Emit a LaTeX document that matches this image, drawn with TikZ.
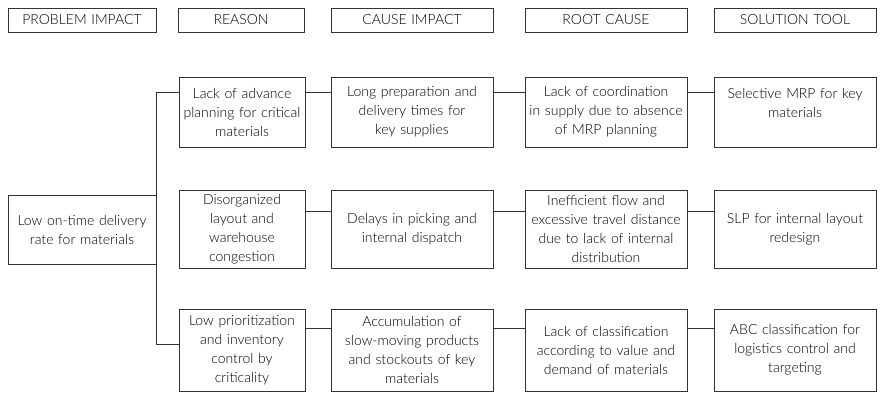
\documentclass[tikz,border=0pt]{standalone}
\usepackage{fontspec}
\setmainfont{Lato Light}

\begin{document}
\begin{tikzpicture}[x=1pt,y=-1pt,
    font=\fontsize{14}{19}\selectfont,
    cell/.style={draw=black!80, line width=0.9pt, align=center, inner xsep=0pt, inner ysep=0pt},
    head/.style={cell, minimum height=24pt},
    cA/.style={minimum width=148pt, text width=148pt},
    cB/.style={minimum width=126pt, text width=126pt},
    cC/.style={minimum width=162pt, text width=162pt},
    link/.style={draw=black!80, line width=0.9pt}]
  \useasboundingbox (0,0) rectangle (884,392);
  % column heads
  \node[head,cA] (hProblem) at (82,20) {PROBLEM IMPACT};
  \node[head,cB] (hReason) at (241,20) {REASON};
  \node[head,cC] (hCause) at (412,20) {CAUSE IMPACT};
  \node[head,cC] (hRoot) at (606,20) {ROOT CAUSE};
  \node[head,cC] (hTool) at (795,20) {SOLUTION TOOL};
  % problem
  \node[cell,cA,minimum height=69pt] (problem) at (82,229.5) {Low on-time delivery\\rate for materials};
  % row 1
  \node[cell,cB,minimum height=70pt] (reasonA) at (242,112) {Lack of advance\\planning for critical\\materials};
  \node[cell,cC,minimum height=70pt] (causeA) at (412,112) {Long preparation and\\delivery times for\\key supplies};
  \node[cell,cC,minimum height=70pt] (rootA) at (606,112) {Lack of coordination\\in supply due to absence\\of MRP planning};
  \node[cell,cC,minimum height=70pt] (toolA) at (795,112) {Selective MRP for key\\materials\\\mbox{}};
  % row 2
  \node[cell,cB,minimum height=78pt] (reasonB) at (242,229) {Disorganized\\layout and\\warehouse\\congestion};
  \node[cell,cC,minimum height=78pt] (causeB) at (412,229) {Delays in picking and\\internal dispatch};
  \node[cell,cC,minimum height=78pt] (rootB) at (606,229) {Inefficient flow and\\excessive travel distance\\due to lack of internal\\distribution};
  \node[cell,cC,minimum height=78pt] (toolB) at (795,229) {SLP for internal layout\\redesign};
  % row 3
  \node[cell,cB,minimum height=82pt] (reasonC) at (242,350) {Low prioritization\\and inventory\\control by\\criticality};
  \node[cell,cC,minimum height=82pt] (causeC) at (412,350) {Accumulation of\\slow-moving products\\and stockouts of key\\materials};
  \node[cell,cC,minimum height=82pt] (rootC) at (606,350) {Lack of classification\\according to value and\\demand of materials};
  \node[cell,cC,minimum height=82pt] (toolC) at (795,350) {ABC classification for\\logistics control and\\targeting};
  % trunk
  \draw[link] ([yshift=-16pt]reasonA.north west) -| (problem.east);
  \draw[link] ([yshift=-36pt]reasonC.north west) -| (problem.east);
  % rows
  \draw[link] ([yshift=-16pt]reasonA.north east) -- ([yshift=-16pt]causeA.north west);
  \draw[link] ([yshift=-16pt]causeA.north east) -- ([yshift=-16pt]rootA.north west);
  \draw[link] ([yshift=-16pt]rootA.north east) -- ([yshift=-16pt]toolA.north west);
  \draw[link] ([yshift=-22pt]reasonB.north east) -- ([yshift=-22pt]causeB.north west);
  \draw[link] ([yshift=-22pt]causeB.north east) -- ([yshift=-22pt]rootB.north west);
  \draw[link] ([yshift=-22pt]rootB.north east) -- ([yshift=-22pt]toolB.north west);
  \draw[link] ([yshift=-20pt]reasonC.north east) -- ([yshift=-20pt]causeC.north west);
  \draw[link] ([yshift=-20pt]causeC.north east) -- ([yshift=-20pt]rootC.north west);
  \draw[link] ([yshift=-20pt]rootC.north east) -- ([yshift=-20pt]toolC.north west);
\end{tikzpicture}
\end{document}
